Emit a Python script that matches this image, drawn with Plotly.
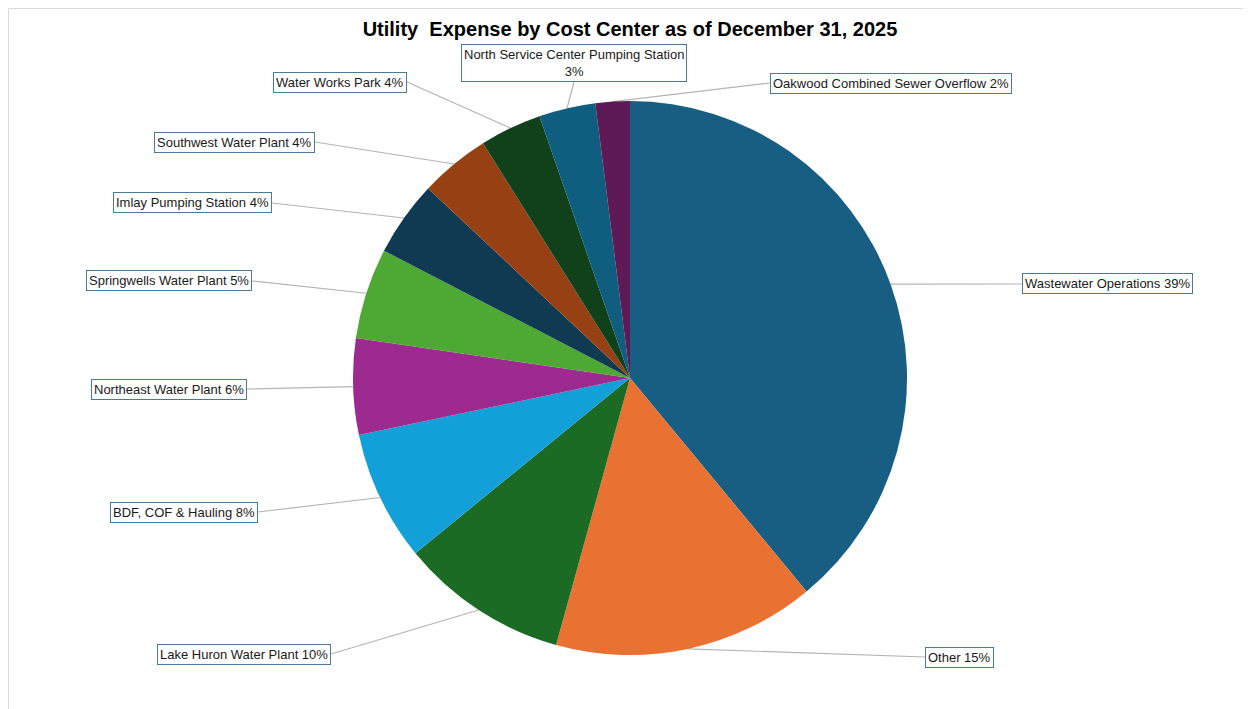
import math
import plotly.graph_objects as go

# page body adds an 8px margin; work in screenshot pixels and convert
OFF = 8
W, H = 1251 - OFF, 709 - OFF

labels = [
    "Wastewater Operations", "Other", "Lake Huron Water Plant", "BDF, COF & Hauling",
    "Northeast Water Plant", "Springwells Water Plant", "Imlay Pumping Station",
    "Southwest Water Plant", "Water Works Park", "North Service Center Pumping Station",
    "Oakwood Combined Sewer Overflow",
]
values = [39.0, 15.3, 9.8, 7.6, 5.6, 5.3, 4.4, 4.1, 3.6, 3.3, 2.0]
colors = ["#175e82", "#e97232", "#1b6b25", "#139fd7", "#9d2a8f", "#4ea834",
          "#0f3a52", "#964013", "#11411a", "#0f5e7f", "#5d1a56"]
label_texts = [
    "Wastewater Operations 39%", "Other 15%", "Lake Huron Water Plant 10%",
    "BDF, COF &amp; Hauling 8%", "Northeast Water Plant 6%", "Springwells Water Plant 5%",
    "Imlay Pumping Station 4%", "Southwest Water Plant 4%", "Water Works Park 4%",
    "North Service Center Pumping Station<br>3%", "Oakwood Combined Sewer Overflow 2%",
]
# label box anchor (screen pixels) and side where the leader line attaches
label_pos = [
    (1022, 284, "left"), (925, 657, "left"), (331, 654, "right"), (258, 512, "right"),
    (247, 389, "right"), (252, 281, "right"), (272, 203, "right"), (315, 142, "right"),
    (407, 82, "right"), (574, 82, "bottom"), (770, 83, "left"),
]

cx, cy, R = 630, 378, 277

def px2paper(x, y):
    return (x - OFF) / W, 1 - (y - OFF) / H

fig = go.Figure()
dx0, dy0 = px2paper(cx - R, cy + R)
dx1, dy1 = px2paper(cx + R, cy - R)
fig.add_trace(go.Pie(
    labels=labels, values=values, sort=False, direction="clockwise", rotation=0,
    marker=dict(colors=colors, line=dict(width=0)), textinfo="none",
    hoverinfo="none", showlegend=False,
    domain=dict(x=[dx0, dx1], y=[dy0, dy1]),
))

total = sum(values)
cum = 0.0
shapes = []
annotations = []
for v, txt, (lx, ly, side) in zip(values, label_texts, label_pos):
    mid = (cum + v / 2) / total * 2 * math.pi
    cum += v
    sx = cx + R * math.sin(mid)
    sy = cy - R * math.cos(mid)
    x0, y0 = px2paper(sx, sy)
    x1, y1 = px2paper(lx, ly)
    shapes.append(dict(type="line", xref="paper", yref="paper", x0=x0, y0=y0, x1=x1, y1=y1,
                       line=dict(color="#b4b4b4", width=1.2), layer="below"))
    if side == "left":
        xa, ya = "left", "middle"
    elif side == "right":
        xa, ya = "right", "middle"
    else:
        xa, ya = "center", "bottom"
    annotations.append(dict(
        x=x1, y=y1, xref="paper", yref="paper", text=txt, showarrow=False,
        xanchor=xa, yanchor=ya, bgcolor="white", bordercolor="#4a7a98",
        borderwidth=1, borderpad=2, align="center",
        font=dict(family="Liberation Sans, Arial, sans-serif", size=13, color="#1a1a1a"),
    ))

# outer light border (top and left edges visible), as close to the page edge as possible
bx, by = px2paper(8.5, 8.5)
shapes.append(dict(type="line", xref="paper", yref="paper", x0=bx, y0=by,
                   x1=1.02, y1=by, line=dict(color="#dcdcdc", width=1)))
shapes.append(dict(type="line", xref="paper", yref="paper", x0=bx, y0=by,
                   x1=bx, y1=-0.02, line=dict(color="#dcdcdc", width=1)))

tx, ty = px2paper(630, 29)
fig.update_layout(
    width=W, height=H, margin=dict(l=0, r=0, t=0, b=0),
    paper_bgcolor="white", plot_bgcolor="white",
    title=dict(text="<b>Utility  Expense by Cost Center as of December 31, 2025</b>",
               x=tx, xanchor="center", y=ty, yanchor="middle",
               font=dict(family="Liberation Sans, Arial, sans-serif", size=20, color="#000000")),
    shapes=shapes, annotations=annotations,
)

fig.write_html("out.html")
